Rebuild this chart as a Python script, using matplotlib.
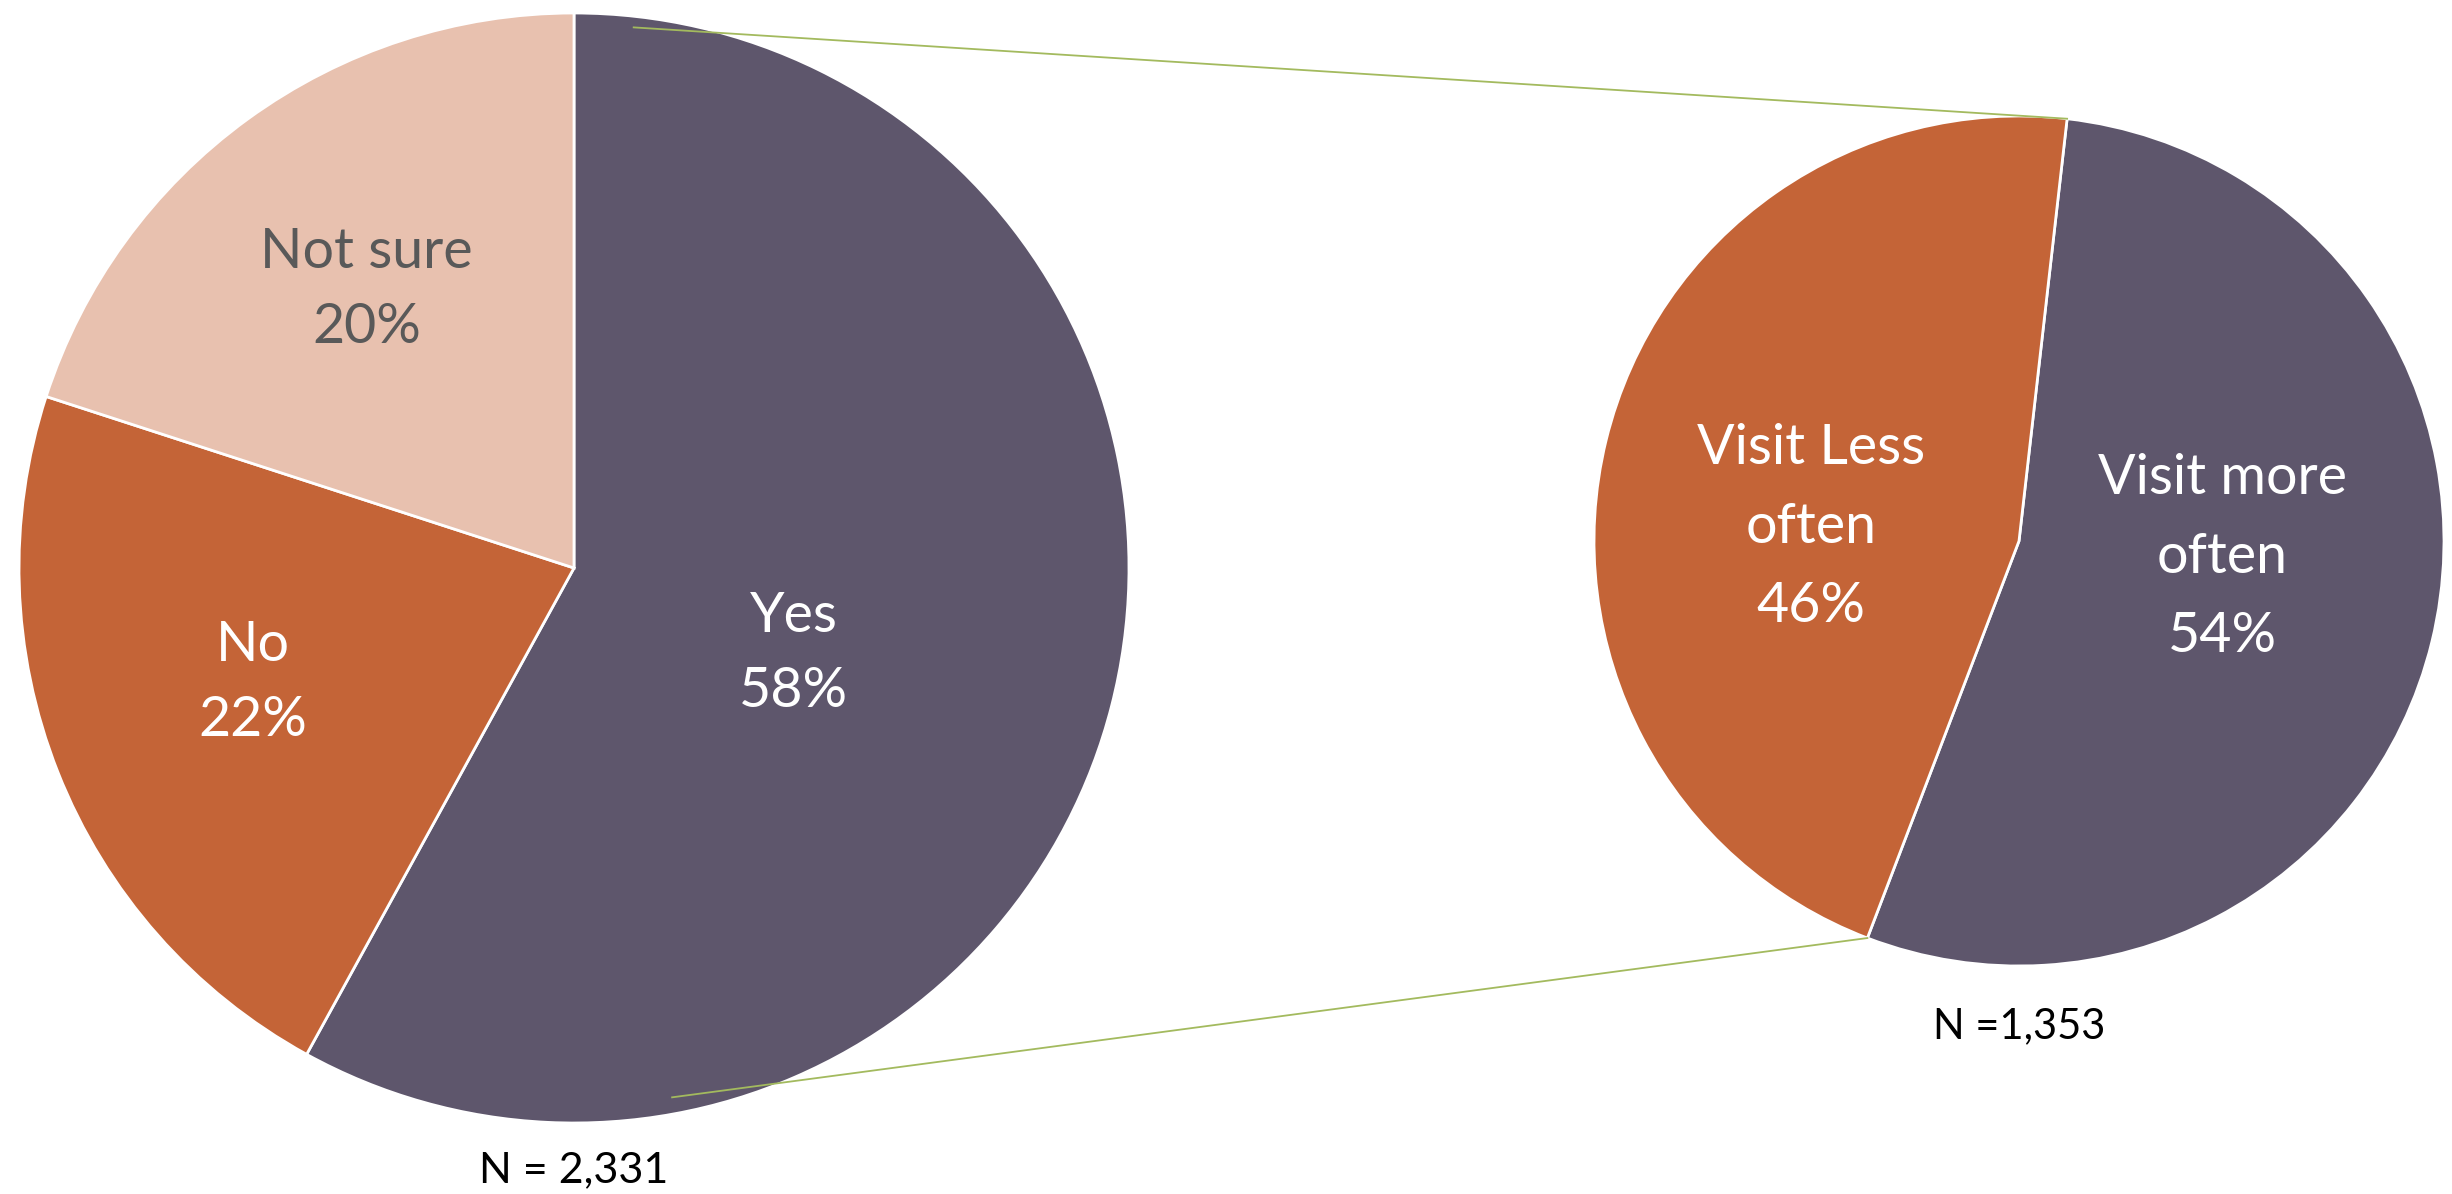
import numpy as np
import matplotlib.pyplot as plt

plt.rcParams["font.family"] = ["Lato", "DejaVu Sans"]

# would you visit the store
main_labels = ["Yes", "No", "Not sure"]
main_shares = [58, 22, 20]
main_n = "N = 2,331"

# breakdown of the "Yes" answers
sub_labels = ["Visit more\noften", "Visit Less\noften"]
sub_shares = [54, 46]
sub_n = "N =1,353"

purple = "#5E566C"
orange = "#C46437"
blush = "#E8C1AF"
link_color = "#A3BA5E"

W, H = 2452, 1194
fig = plt.figure(figsize=(W / 100, H / 100), dpi=100)
ax = fig.add_axes([0, 0, 1, 1])

main_c, main_r = (574, H - 568), 555
sub_c, sub_r = (2019, H - 541), 425


def draw_pie(shares, colors, center, radius, start):
    wedges, _ = ax.pie(shares, colors=colors, center=center, radius=radius,
                       startangle=start, counterclock=False, frame=True,
                       wedgeprops=dict(edgecolor="white", linewidth=2))
    return wedges


def polar(center, radius, angle, frac):
    a = np.deg2rad(angle)
    return center[0] + radius * frac * np.cos(a), center[1] + radius * frac * np.sin(a)


def label_wedges(wedges, labels, shares, center, radius, fracs, shifts, colors, spacing):
    for w, lab, s, f, d, c in zip(wedges, labels, shares, fracs, shifts, colors):
        mid = (w.theta1 + w.theta2) / 2 + d
        x, y = polar(center, radius, mid, f)
        ax.text(x, y, f"{lab}\n{s}%", ha="center", va="center",
                multialignment="center", color=c, fontsize=40,
                linespacing=spacing, zorder=5)


main_w = draw_pie(main_shares, [purple, orange, blush], main_c, main_r, 90)
sub_w = draw_pie(sub_shares, [purple, orange], sub_c, sub_r, 83.5)

label_wedges(main_w, main_labels, main_shares, main_c, main_r,
             [0.425, 0.615, 0.625], [-7, -1.9, 0.7],
             ["white", "white", "#595959"], 1.6)
label_wedges(sub_w, sub_labels, sub_shares, sub_c, sub_r,
             [0.48, 0.49], [9.0, 10.0], ["white", "white"], 1.68)

# connector lines from the "Yes" slice to the breakdown pie
top_end = polar(sub_c, sub_r, sub_w[0].theta2, 1.0)
bot_end = polar(sub_c, sub_r, sub_w[0].theta1, 1.0)
top_start = polar(main_c, main_r, 83.7, 0.98)
bot_start = polar(main_c, main_r, -79.5, 0.97)
for p, q in [(top_start, top_end), (bot_start, bot_end)]:
    ax.plot([p[0], q[0]], [p[1], q[1]], color=link_color, lw=1.3, zorder=4)

ax.text(main_c[0], H - 1170, main_n, ha="center", va="center", fontsize=31)
ax.text(sub_c[0], H - 1026, sub_n, ha="center", va="center", fontsize=30)

ax.set_xlim(0, W)
ax.set_ylim(0, H)
ax.set_aspect("equal")
ax.axis("off")

fig.savefig("out.png", dpi=100, facecolor="white")
